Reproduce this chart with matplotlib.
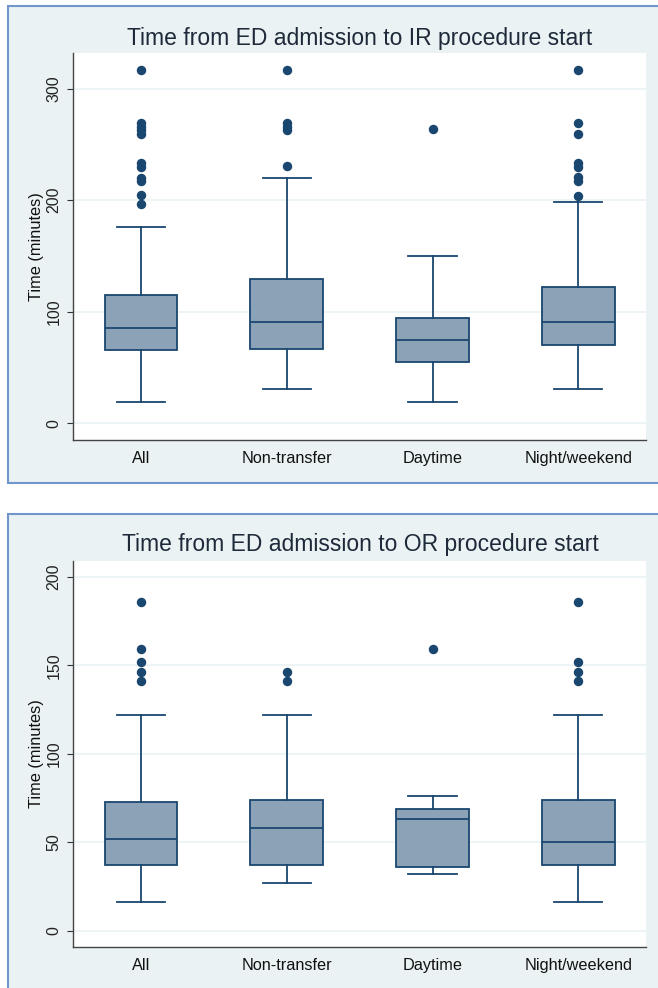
import matplotlib
matplotlib.use("Agg")
import matplotlib.pyplot as plt
from matplotlib.patches import Rectangle

plt.rcParams['font.family'] = ['Liberation Sans', 'DejaVu Sans']

categories = ["All", "Non-transfer", "Daytime", "Night/weekend"]

# IR panel summary statistics (minutes)
ir_whislo = [19, 31, 19, 31]
ir_q1 = [66, 67, 55, 70]
ir_med = [85, 91, 75, 91]
ir_q3 = [115, 129, 94, 122]
ir_whishi = [176, 220, 150, 198]
ir_fliers = [
    [317, 269, 266, 263, 259, 233, 230, 220, 217, 205, 197],
    [317, 269, 266, 263, 231],
    [264],
    [317, 269, 259, 233, 230, 221, 217, 204],
]

# OR panel summary statistics (minutes)
or_whislo = [16, 27, 32, 16]
or_q1 = [37, 37, 36, 37]
or_med = [52, 58, 63, 50]
or_q3 = [73, 74, 69, 74]
or_whishi = [122, 122, 76, 122]
or_fliers = [
    [186, 159, 152, 146, 141],
    [146, 141],
    [159],
    [186, 152, 146, 141],
]

titles = ["Time from ED admission to IR procedure start",
          "Time from ED admission to OR procedure start"]
ylabel = "Time (minutes)"
ir_ticks = [0, 100, 200, 300]
or_ticks = [0, 50, 100, 150, 200]

NAVY = "#1A476F"
FILL = "#8CA3B7"
BG = "#EAF2F3"
BORDER = "#7096CC"

W, H = 658, 988
fig = plt.figure(figsize=(W / 100, H / 100), dpi=100)
fig.patch.set_facecolor("white")

# panel backgrounds
fig.patches.append(Rectangle((7.5 / W, 1 - 483.5 / H), 1.0, 477 / H,
                             transform=fig.transFigure, facecolor=BG,
                             edgecolor=BORDER, linewidth=1.5, zorder=-5))
fig.patches.append(Rectangle((7.5 / W, -0.05), 1.0, 0.05 + 1 - 514 / H,
                             transform=fig.transFigure, facecolor=BG,
                             edgecolor=BORDER, linewidth=1.5, zorder=-5))


def make_stats(lo, q1, med, q3, hi, fl):
    out = []
    for i in range(len(categories)):
        out.append(dict(label=categories[i], whislo=lo[i], q1=q1[i], med=med[i],
                        q3=q3[i], whishi=hi[i], fliers=fl[i]))
    return out


panels = [
    dict(stats=make_stats(ir_whislo, ir_q1, ir_med, ir_q3, ir_whishi, ir_fliers),
         ticks=ir_ticks, ylim=(-15, 332), top=53, bottom=440, title=titles[0],
         title_y=38),
    dict(stats=make_stats(or_whislo, or_q1, or_med, or_q3, or_whishi, or_fliers),
         ticks=or_ticks, ylim=(-9.4, 209.2), top=560.7, bottom=947.3,
         title=titles[1], title_y=545),
]

for p in panels:
    left, right = 73, 646
    ax = fig.add_axes([left / W, 1 - p["bottom"] / H, (right - left) / W,
                       (p["bottom"] - p["top"]) / H])
    ax.set_zorder(2)
    ax.set_facecolor("white")
    ax.bxp(p["stats"], positions=[1, 2, 3, 4], widths=0.5, capwidths=0.33,
           patch_artist=True, showfliers=True,
           boxprops=dict(facecolor=FILL, edgecolor=NAVY, linewidth=1.3),
           medianprops=dict(color=NAVY, linewidth=1.3),
           whiskerprops=dict(color=NAVY, linewidth=1.3),
           capprops=dict(color=NAVY, linewidth=1.3),
           flierprops=dict(marker="o", markerfacecolor=NAVY,
                           markeredgecolor=NAVY, markersize=5.8,
                           linestyle="none"))
    ax.set_xlim(0.533, 4.465)
    ax.set_ylim(*p["ylim"])
    ax.set_yticks(p["ticks"])
    ax.set_yticklabels([str(t) for t in p["ticks"]], rotation=90, va="center",
                       fontsize=11.5, color="#222222")
    ax.set_xticks([1, 2, 3, 4])
    ax.set_xticklabels(categories, fontsize=11.7, color="#111111")
    ax.tick_params(axis="x", length=0, pad=8)
    ax.tick_params(axis="y", length=4.3, width=0.8, color="#333333", pad=4)
    ax.grid(axis="y", color=BG, linewidth=1.2)
    ax.set_axisbelow(True)
    for s in ["top", "right"]:
        ax.spines[s].set_visible(False)
    for s in ["left", "bottom"]:
        ax.spines[s].set_color("#444444")
        ax.spines[s].set_linewidth(1.0)
    ax.set_ylabel(ylabel, fontsize=11.8, color="#111111", labelpad=2)
    fig.text(360 / W, 1 - p["title_y"] / H, p["title"], ha="center",
             va="center", fontsize=16.5, color="#1E2A3A", zorder=3)

fig.savefig("out.png", dpi=100, facecolor="white")
